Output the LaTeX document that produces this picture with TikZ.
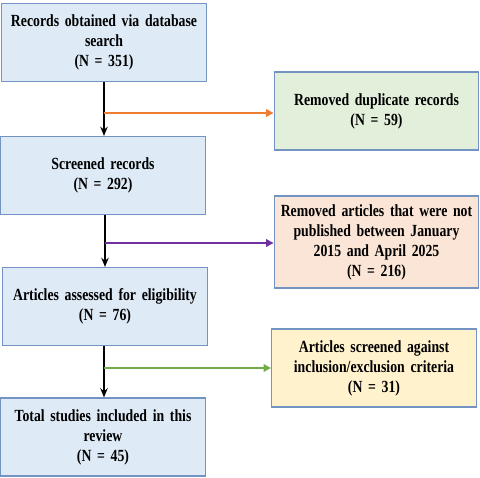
\documentclass[tikz,border=0pt]{standalone}
\usepackage{fontspec}
\setmainfont[FakeStretch=0.81]{Liberation Serif}
\usepackage{tikz}
\usetikzlibrary{arrows.meta,positioning}
\definecolor{boxline}{HTML}{7394C2}
\definecolor{bluefill}{HTML}{DEEAF6}
\definecolor{greenfill}{HTML}{E2EFDA}
\definecolor{pinkfill}{HTML}{FBE5D6}
\definecolor{yellowfill}{HTML}{FFF2CC}
\definecolor{orangeline}{HTML}{ED7D31}
\definecolor{purpleline}{HTML}{7030A0}
\definecolor{greenline}{HTML}{70AD47}
\begin{document}
\begin{tikzpicture}[x=1pt,y=1pt,font=\fontsize{17}{20}\selectfont\bfseries,
  blk/.style={draw=boxline,line width=1.2pt,align=center,minimum width=204pt,text width=198pt,minimum height=78pt,fill=#1},
  arr/.style={-{Stealth[length=3.2mm,width=2.6mm]},line width=1.8pt},
  side/.style={-{Triangle[length=2.6mm,width=2.6mm]},line width=2pt,draw=#1}]
\useasboundingbox (0,0) rectangle (480,-478);
\node[blk=bluefill] (rec) at (104,-42.5) {Records obtained via database\\search\\(N = 351)};
\node[blk=bluefill] (scr) at (103,-175.5) {Screened records\\(N = 292)};
\node[blk=bluefill] (elig) at (105,-306.5) {Articles assessed for eligibility\\(N = 76)};
\node[blk=bluefill] (incl) at (103,-437) {Total studies included in this\\review\\(N = 45)};
\node[blk=greenfill] (dup) at (376.5,-111) {Removed duplicate records\\(N = 59)};
\node[blk=pinkfill, minimum height=92pt] (date) at (376.5,-242) {Removed articles that were not\\published between January\\2015 and April 2025\\(N = 216)};
\node[blk=yellowfill] (crit) at (374,-368) {Articles screened against\\inclusion/exclusion criteria\\(N = 31)};
\coordinate (j1) at (104,-113);
\coordinate (j2) at (105,-243);
\coordinate (j3) at (104,-368);
\draw[arr] (rec.south -| j1) -- (scr.north -| j1);
\draw[arr] (scr.south -| j2) -- (elig.north -| j2);
\draw[arr] (elig.south -| j3) -- (incl.north -| j3);
\draw[side=orangeline] (j1) -- (j1 -| dup.west);
\draw[side=purpleline] (j2) -- (j2 -| date.west);
\draw[side=greenline] (j3) -- (crit.west);
\end{tikzpicture}
\end{document}
